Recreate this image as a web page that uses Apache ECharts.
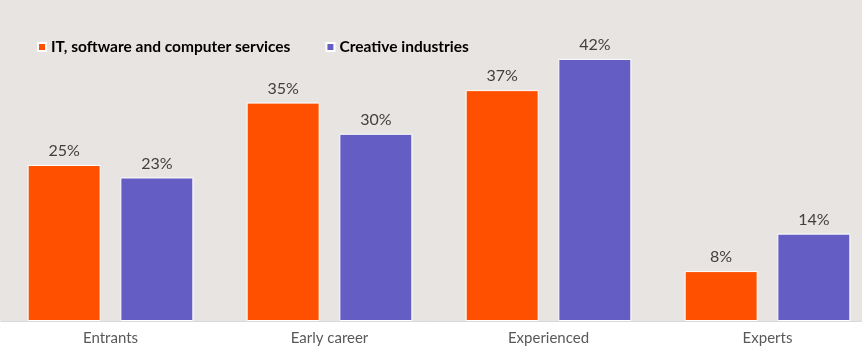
<!DOCTYPE html>
<html>
<head>
<meta charset="utf-8">
<script src="https://cdn.jsdelivr.net/npm/echarts@6/dist/echarts.min.js"></script>
<style>
  html, body { margin: 0; padding: 0; background: #ffffff; }
  #chart { width: 862px; height: 354px; }
</style>
</head>
<body>
<div id="chart"></div>
<script>
// Career stage categories and shares per sector (%)
const categories = ['Entrants', 'Early career', 'Experienced', 'Experts'];
const itSoftware = [25, 35, 37, 8];
const creative = [23, 30, 42, 14];
const seriesNames = ['IT, software and computer services', 'Creative industries'];

const chart = echarts.init(document.getElementById('chart'));
const font = 'Lato, "Open Sans", sans-serif';

chart.setOption({
  backgroundColor: '#ffffff',
  animation: false,
  graphic: [{
    type: 'rect',
    z: -10,
    shape: { x: 0, y: 0, width: 862, height: 321 },
    style: { fill: '#e8e4e1' }
  }],
  legend: {
    left: 32,
    top: 34,
    itemWidth: 8,
    itemHeight: 8,
    itemGap: 35,
    icon: 'rect',
    textStyle: { fontFamily: font, fontWeight: 'bold', fontSize: 15.5, color: '#000000' },
    data: seriesNames
  },
  // plot area runs a little past the right edge of the canvas
  grid: { left: 1, width: 876, top: 9, bottom: 33, outerBoundsMode: 'none', containLabel: false },
  xAxis: {
    type: 'category',
    data: categories,
    axisTick: { show: false },
    axisLine: { lineStyle: { color: '#d9d9d9', width: 1 } },
    axisLabel: { fontFamily: font, fontSize: 15, color: '#595959', margin: 10 }
  },
  yAxis: {
    type: 'value',
    min: 0,
    max: 50,
    show: false,
    splitLine: { show: false }
  },
  series: [
    {
      name: seriesNames[0],
      type: 'bar',
      data: itSoftware,
      barWidth: 73,
      barGap: '27%',
      itemStyle: { color: '#ff5000', borderColor: '#ffffff', borderWidth: 1 },
      label: { show: true, position: 'top', formatter: '{c}%', fontFamily: font, fontSize: 16, color: '#404040', distance: 6 }
    },
    {
      name: seriesNames[1],
      type: 'bar',
      data: creative,
      barWidth: 73,
      itemStyle: { color: '#645ec4', borderColor: '#ffffff', borderWidth: 1 },
      label: { show: true, position: 'top', formatter: '{c}%', fontFamily: font, fontSize: 16, color: '#404040', distance: 6 }
    }
  ]
});
</script>
</body>
</html>
